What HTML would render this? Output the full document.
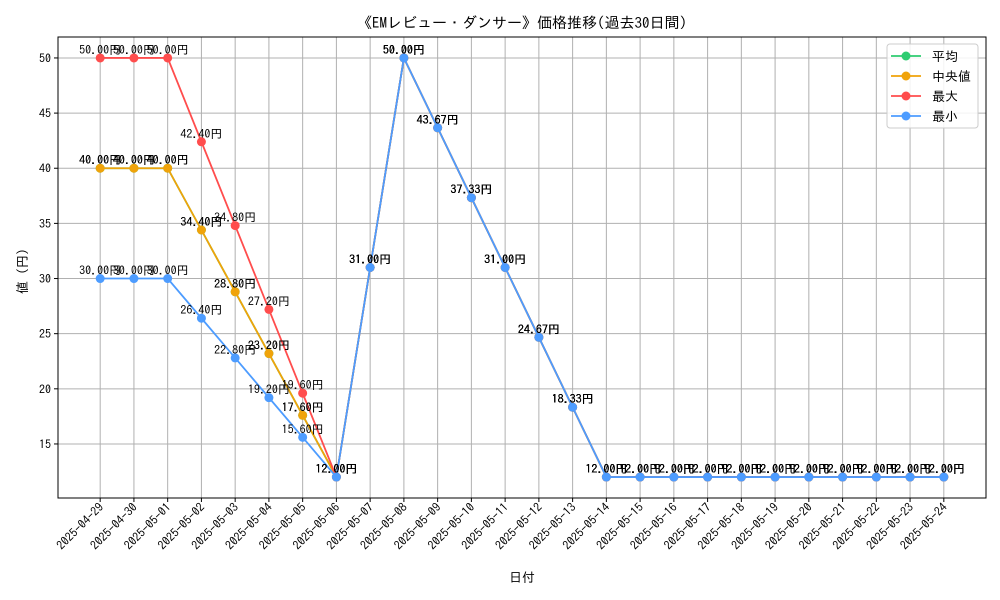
<!DOCTYPE html>
<html><head><meta charset="utf-8"><style>
html,body{margin:0;padding:0;background:#fff}
svg{display:block;font-family:"IPAGothic","Liberation Sans","Noto Sans CJK JP",sans-serif}
</style></head><body>
<svg id="chart" width="1000" height="600" viewBox="0 0 1000 600">
<text x="522" y="28" font-size="15" text-anchor="middle">《EMレビュー・ダンサー》価格推移(過去30日間)</text>
<text transform="translate(27,268) rotate(-90)" font-size="13" text-anchor="middle">値（円）</text>
<text x="522" y="582" font-size="13" text-anchor="middle">日付</text>
<g id="grid"></g>
<g id="series"></g>
<g id="labels"></g>
<rect x="58" y="37" width="928" height="461" fill="none" stroke="#000" stroke-width="1"/>
<g id="xticks"></g>
<g id="yticks"></g>
<g>
<rect x="887" y="44" width="91" height="84" rx="3" fill="#fff" fill-opacity="0.85" stroke="#ccc"/>
<g id="legend"></g>
</g>
</svg>
<script>
const categories=["2025-04-29","2025-04-30","2025-05-01","2025-05-02","2025-05-03","2025-05-04","2025-05-05","2025-05-06","2025-05-07","2025-05-08","2025-05-09","2025-05-10","2025-05-11","2025-05-12","2025-05-13","2025-05-14","2025-05-15","2025-05-16","2025-05-17","2025-05-18","2025-05-19","2025-05-20","2025-05-21","2025-05-22","2025-05-23","2025-05-24"];
const meanValues=[40,40,40,34.4,28.8,23.2,17.6,12,31,50,43.67,37.33,31,24.67,18.33,12,12,12,12,12,12,12,12,12,12,12];
const medianValues=[40,40,40,34.4,28.8,23.2,17.6,12,31,50,43.67,37.33,31,24.67,18.33,12,12,12,12,12,12,12,12,12,12,12];
const maxValues=[50,50,50,42.4,34.8,27.2,19.6,12,31,50,43.67,37.33,31,24.67,18.33,12,12,12,12,12,12,12,12,12,12,12];
const minValues=[30,30,30,26.4,22.8,19.2,15.6,12,31,50,43.67,37.33,31,24.67,18.33,12,12,12,12,12,12,12,12,12,12,12];
const yTicks=[15,20,25,30,35,40,45,50];
const seriesNames=["平均","中央値","最大","最小"];
const NS="http://www.w3.org/2000/svg";
const L=58,R=986,T=37,B=498;
const allV=[].concat(meanValues,medianValues,maxValues,minValues);
const vmin=Math.min(...allV),vmax=Math.max(...allV),pad=(vmax-vmin)*0.05;
const y0=vmin-pad,y1=vmax+pad;
const n=categories.length,xpad=(n-1)*0.05;
function X(i){return L+(i+xpad)/(n-1+2*xpad)*(R-L);}
function Y(v){return B-(v-y0)/(y1-y0)*(B-T);}
function mk(tag,attrs,parent){const e=document.createElementNS(NS,tag);for(const k in attrs)e.setAttribute(k,attrs[k]);parent.appendChild(e);return e;}
const grid=document.getElementById('grid'),xt=document.getElementById('xticks'),yt=document.getElementById('yticks');
categories.forEach((c,i)=>{
 const x=X(i);
 const g=mk('line',{x1:x,x2:x,y1:T,y2:B,stroke:'#b0b0b0','stroke-width':1},grid);
 
 
 const t=mk('line',{x1:x,x2:x,y1:B,y2:B+4,stroke:'#000'},xt);
 
 
 const lb=mk('text',{transform:`translate(${x+4},${B+10}) rotate(-45)`,'font-size':12,'text-anchor':'end'},xt);
 lb.textContent=c;
 
 
});
yTicks.forEach(v=>{
 const y=Y(v);
 const g=mk('line',{x1:L,x2:R,y1:y,y2:y,stroke:'#b0b0b0','stroke-width':1},grid);
 
 
 const t=mk('line',{x1:L-4,x2:L,y1:y,y2:y,stroke:'#000'},yt);
 
 
 const lb=mk('text',{x:L-7,y:y+4.5,'font-size':12,'text-anchor':'end'},yt);
 lb.textContent=v;
 
 
});
const seriesData=[meanValues,medianValues,maxValues,minValues];
const colors=["#2ecc71","#f0a30a","#ff4d4d","#4d9cff"];
const sg=document.getElementById('series'),lg=document.getElementById('labels'),leg=document.getElementById('legend');
seriesData.forEach((vals,s)=>{
 const pts=vals.map((v,i)=>X(i)+','+Y(v)).join(' ');
 const pl=mk('polyline',{points:pts,fill:'none',stroke:colors[s],'stroke-width':1.8},sg);
 
 
 vals.forEach((v,i)=>{
  const c=mk('circle',{cx:X(i),cy:Y(v),r:4.5,fill:colors[s]},sg);
  
  
  const t=mk('text',{x:X(i),y:Y(v)-4,'font-size':12,'text-anchor':'middle',fill:'#000'},lg);
  t.textContent=v.toFixed(2)+'円';
  
  
 });
 const ly=56+s*20;
 const ll=mk('line',{x1:891,x2:921,y1:ly,y2:ly,stroke:colors[s],'stroke-width':1.8},leg);
 
 
 const lc=mk('circle',{cx:906,cy:ly,r:4.5,fill:colors[s]},leg);
 
 
 const lt=mk('text',{x:932,y:ly+5,'font-size':13},leg);
 lt.textContent=seriesNames[s];
 
 
});
</script>
</body></html>
